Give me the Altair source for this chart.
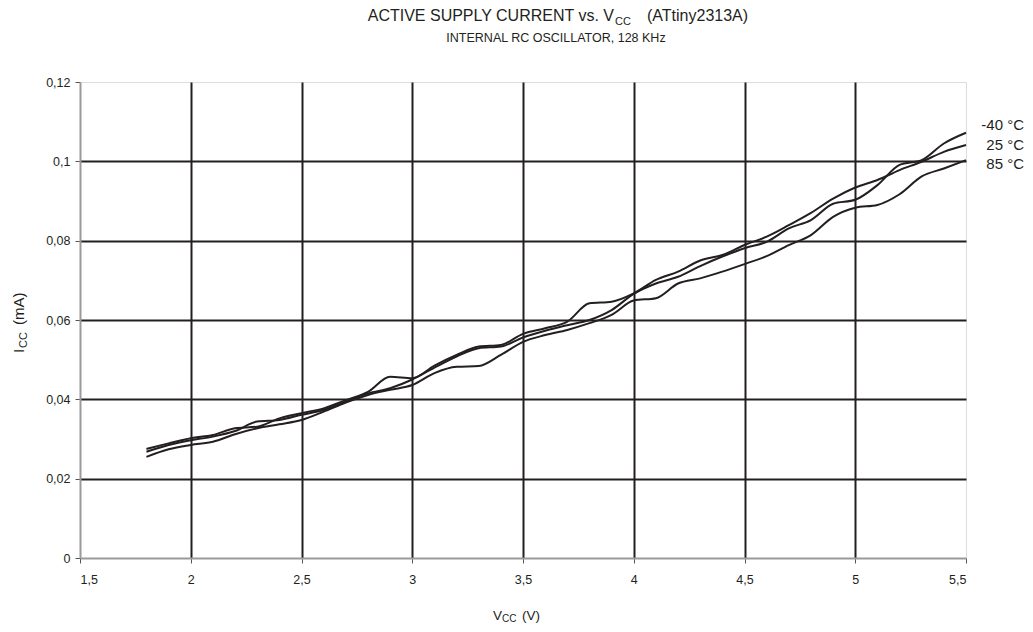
import altair as alt
import pandas as pd

# ---- data ----
vcc = [1.8, 1.9, 2.0, 2.1, 2.2, 2.3, 2.4, 2.5, 2.6, 2.7, 2.8, 2.9, 3.0, 3.1, 3.2, 3.3,
       3.4, 3.5, 3.6, 3.7, 3.8, 3.9, 4.0, 4.1, 4.2, 4.3, 4.4, 4.5, 4.6, 4.7, 4.8, 4.9,
       5.0, 5.1, 5.2, 5.3, 5.4, 5.5]

icc_m40 = [0.0268, 0.0285, 0.0297, 0.0306, 0.0320, 0.0344, 0.0348, 0.0361, 0.0373, 0.0394,
           0.0415, 0.0428, 0.0450, 0.0480, 0.0508, 0.0529, 0.0533, 0.0556, 0.0573, 0.0587,
           0.0600, 0.0625, 0.0666, 0.0692, 0.0709, 0.0736, 0.0760, 0.0781, 0.0797, 0.0831,
           0.0852, 0.0893, 0.0903, 0.0940, 0.0991, 0.1003, 0.1045, 0.1072]

icc_25 = [0.0275, 0.0289, 0.0302, 0.0310, 0.0327, 0.0331, 0.0352, 0.0365, 0.0377, 0.0398,
          0.0419, 0.0457, 0.0453, 0.0485, 0.0512, 0.0533, 0.0537, 0.0565, 0.0579, 0.0596,
          0.0642, 0.0646, 0.0667, 0.0701, 0.0722, 0.0750, 0.0764, 0.0789, 0.0810, 0.0839,
          0.0870, 0.0906, 0.0934, 0.0953, 0.0978, 0.0999, 0.1024, 0.1041]

icc_85 = [0.0255, 0.0274, 0.0285, 0.0293, 0.0312, 0.0327, 0.0337, 0.0348, 0.0369, 0.0392,
          0.0411, 0.0424, 0.0436, 0.0466, 0.0482, 0.0484, 0.0512, 0.0545, 0.0562, 0.0575,
          0.0592, 0.0613, 0.0649, 0.0655, 0.0692, 0.0705, 0.0722, 0.0741, 0.0761, 0.0789,
          0.0814, 0.0860, 0.0883, 0.0890, 0.0917, 0.0962, 0.0982, 0.1003]

series_names = ["-40 °C", "25 °C", "85 °C"]
x_ticks = [1.5, 2.0, 2.5, 3.0, 3.5, 4.0, 4.5, 5.0, 5.5]
y_ticks = [0, 0.02, 0.04, 0.06, 0.08, 0.1, 0.12]

title_main = "ACTIVE SUPPLY CURRENT vs. V"
title_sub_cc = "CC"
title_tail = "(ATtiny2313A)"
subtitle = "INTERNAL RC OSCILLATOR, 128 KHz"

rows = []
for name, vals in zip(series_names, [icc_m40, icc_25, icc_85]):
    for v, i in zip(vcc, vals):
        rows.append({"V": v, "I": i, "series": name})
df = pd.DataFrame(rows)

INK = "#231f20"
GREY = "#9a9a9a"
FONT = "Liberation Sans"
W, H = 886, 476

x_edge = "datum.value < 1.5001 || datum.value > 5.4999"
y_edge = "datum.value < 0.0001 || datum.value > 0.1199"


def make_axis(values, edge_test, label_padding):
    return alt.Axis(
        values=values,
        labelExpr="replace(format(datum.value, '~g'), '.', ',')",
        title="",
        grid=True,
        gridColor=INK,
        gridWidth=2,
        gridOpacity={"condition": {"test": edge_test, "value": 0}, "value": 1},
        domainColor=GREY,
        domainWidth=2,
        tickColor="#555555",
        tickSize=5,
        tickWidth=1,
        labelPadding=label_padding,
        labelFontSize=12.5,
        labelColor=INK,
        labelFont=FONT,
    )


x_enc = alt.X(
    "V:Q",
    scale=alt.Scale(domain=[1.5, 5.5], nice=False, zero=False),
    axis=make_axis(x_ticks, x_edge, 10),
)
y_enc = alt.Y(
    "I:Q",
    scale=alt.Scale(domain=[0, 0.12], nice=False),
    axis=make_axis(y_ticks, y_edge, 5),
)

lines = alt.Chart(df).mark_line(
    interpolate="monotone", color=INK, strokeWidth=2
).encode(x=x_enc, y=y_enc, detail="series:N")

ends = df[df["V"] == 5.5]


def end_label(name, dy):
    return alt.Chart(ends[ends["series"] == name]).mark_text(
        align="right", baseline="middle", dx=58, dy=dy,
        font=FONT, fontSize=15, color=INK
    ).encode(x="V:Q", y="I:Q", text="series:N")


def free_text(text, x, y, size, align="left", angle=0):
    return alt.Chart(alt.Data(values=[{}])).mark_text(
        align=align, baseline="alphabetic", angle=angle,
        font=FONT, fontSize=size, color=INK
    ).encode(x=alt.value(x), y=alt.value(y), text=alt.value(text))


layers = [
    lines,
    end_label("-40 °C", -8),
    end_label("25 °C", 0),
    end_label("85 °C", 4),
    # chart title with subscript
    free_text(title_main, 534, -61, 16, align="right"),
    free_text(title_sub_cc, 535, -57, 11),
    free_text(title_tail, 567, -61, 16),
    free_text(subtitle, 476, -40, 12.5, align="center"),
    # y axis title I_CC (mA)
    free_text("I", -56, 271, 15, angle=270),
    free_text("CC", -53, 266, 11, angle=270),
    free_text("(mA)", -56, 243, 15, angle=270),
    # x axis title V_CC (V)
    free_text("V", 413, 538, 13.5),
    free_text("CC", 422, 540, 10),
    free_text("(V)", 442, 538, 13.5),
]

chart = alt.layer(*layers).properties(
    width=W,
    height=H,
    autosize=alt.AutoSizeParams(type="none"),
    padding={"left": 72, "top": 74, "right": 59, "bottom": 66},
).configure_view(
    stroke=GREY, strokeWidth=2
).configure(background="white")

chart.save("out.html", embed_options={"renderer": "svg", "actions": False})
